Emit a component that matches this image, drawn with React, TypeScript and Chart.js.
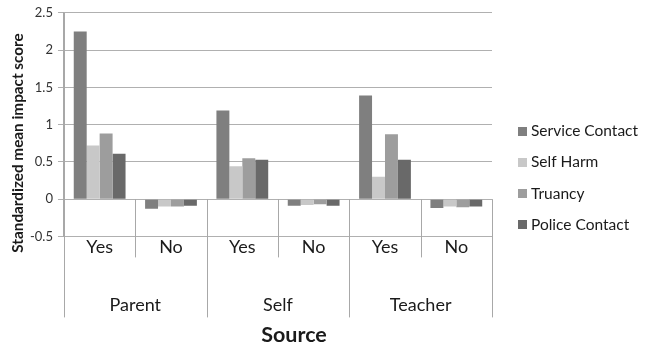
import React, { useEffect, useRef } from "react";
import { Chart, registerables } from "chart.js";

Chart.register(...registerables);

const categories = ["Yes", "No", "Yes", "No", "Yes", "No"];
const groups = ["Parent", "Self", "Teacher"];
const serviceContact = [2.25, -0.13, 1.19, -0.09, 1.39, -0.12];
const selfHarm = [0.72, -0.1, 0.44, -0.08, 0.3, -0.1];
const truancy = [0.88, -0.1, 0.55, -0.07, 0.87, -0.11];
const policeContact = [0.61, -0.09, 0.53, -0.09, 0.53, -0.1];
const seriesNames = ["Service Contact", "Self Harm", "Truancy", "Police Contact"];
const seriesColors = ["#7f7f7f", "#c8c8c8", "#9d9d9d", "#696969"];
const yTitle = "Standardized mean impact score";
const xTitle = "Source";

const FONT = "Lato, 'DejaVu Sans', sans-serif";

const decorPlugin = {
  id: "decor",
  afterDraw(chart: any) {
    const { ctx, chartArea, scales } = chart;
    const { left, right, top, bottom } = chartArea;
    const n = chart.data.labels.length;
    const w = (right - left) / n;
    const y0 = scales.y.getPixelForValue(0);
    ctx.save();
    ctx.strokeStyle = "#a8a8a8";
    ctx.lineWidth = 1;
    for (let k = 0; k <= n; k++) {
      const xk = Math.round(left + k * w) + 0.5;
      ctx.beginPath();
      ctx.moveTo(xk, k === 0 ? top : y0);
      ctx.lineTo(xk, k % 2 === 0 ? bottom + 81 : bottom + 21);
      ctx.stroke();
    }
    ctx.fillStyle = "#1a1a1a";
    ctx.font = "18px " + FONT;
    ctx.textAlign = "center";
    ctx.textBaseline = "middle";
    groups.forEach((g, i) => {
      const cx = left + (2 * i + 1) * w;
      ctx.fillText(g, cx, bottom + 69);
    });
    // x title
    ctx.font = "bold 21.5px " + FONT;
    ctx.fillText(xTitle, 294, 335);
    // y title
    ctx.save();
    ctx.translate(18, 143);
    ctx.rotate(-Math.PI / 2);
    ctx.font = "bold 15.3px " + FONT;
    ctx.fillText(yTitle, 0, 0);
    ctx.restore();
    // legend
    ctx.font = "15.5px " + FONT;
    ctx.textAlign = "left";
    chart.data.datasets.forEach((ds: any, i: number) => {
      const cy = 131 + i * 31.3;
      ctx.fillStyle = ds.backgroundColor;
      ctx.fillRect(518, Math.round(cy - 4.5), 9, 9);
      ctx.fillStyle = "#1a1a1a";
      ctx.fillText(ds.label, 531, cy);
    });
    ctx.restore();
  },
};

export default function App() {
  const ref = useRef<HTMLCanvasElement>(null);
  useEffect(() => {
    document.body.style.margin = "0";
    const values = [serviceContact, selfHarm, truancy, policeContact];
    const chart = new Chart(ref.current!, {
      type: "bar",
      data: {
        labels: categories,
        datasets: seriesNames.map((name, i) => ({
          label: name,
          data: values[i],
          backgroundColor: seriesColors[i],
          borderWidth: 0,
          barPercentage: 1,
          categoryPercentage: 0.726,
        })),
      },
      options: {
        animation: false,
        responsive: false,
        maintainAspectRatio: false,
        layout: { padding: { left: 25, right: 154, top: 12, bottom: 91 } },
        plugins: { legend: { display: false }, tooltip: { enabled: false } },
        scales: {
          x: {
            grid: { display: false, drawTicks: false },
            border: { display: false },
            ticks: { font: { family: FONT, size: 18 }, color: "#1a1a1a", padding: 0 },
          },
          y: {
            min: -0.5,
            max: 2.5,
            ticks: {
              stepSize: 0.5,
              font: { family: FONT, size: 13 },
              color: "#333333",
              padding: 5,
              callback: (v: any) => String(Number(v)),
            },
            grid: { color: "#b0b0b0", tickLength: 6 },
            border: { color: "#a8a8a8" },
          },
        },
      },
      plugins: [decorPlugin],
    });
    return () => chart.destroy();
  }, []);
  return (
    <div style={{ width: 646, height: 349 }}>
      <canvas ref={ref} width={646} height={349} style={{ display: "block" }} />
    </div>
  );
}
